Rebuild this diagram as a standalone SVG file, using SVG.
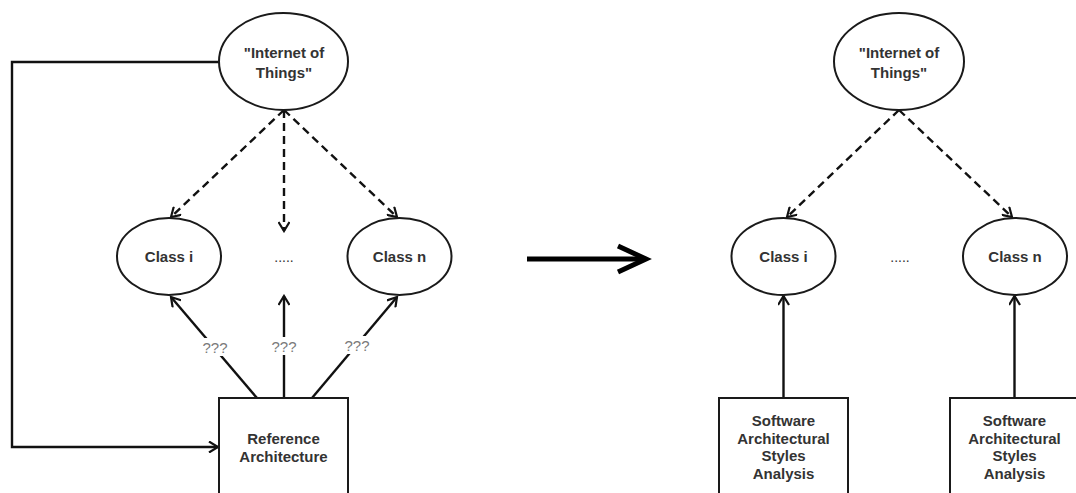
<svg xmlns="http://www.w3.org/2000/svg" width="1076" height="493" viewBox="0 0 1076 493">
  <style>
    .shape { fill: #ffffff; stroke: #1a1a1a; stroke-width: 2; }
    .lbl { font-family: "Liberation Sans", Arial, sans-serif; font-size: 15px; font-weight: bold; fill: #333333; text-anchor: middle; }
    .dots { font-family: "Liberation Sans", Arial, sans-serif; font-size: 14px; fill: #333333; text-anchor: middle; }
    .q { font-family: "Liberation Sans", Arial, sans-serif; font-size: 15px; fill: #7a7a7a; text-anchor: middle; }
    .edge { fill: none; stroke: #111111; stroke-width: 2.4; marker-end: url(#open); }
    .dash { stroke-dasharray: 8 5; }
  </style>
  <defs>
    <marker id="open" viewBox="0 0 12 12" refX="10" refY="6" markerWidth="12" markerHeight="12" markerUnits="userSpaceOnUse" orient="auto">
      <path d="M1,0.5 L10,6 L1,11.5" fill="none" stroke="#111111" stroke-width="2.2" stroke-dasharray="none"/>
    </marker>
  </defs>

  <!-- connectors -->
  <g id="connectors">
    <!-- left: loop from IoT back to reference architecture -->
    <polyline class="edge" points="219,62 12,62 12,447 218,447"/>
    <!-- left: IoT to classes (dashed) -->
    <line class="edge dash" x1="284" y1="110" x2="171" y2="217"/>
    <line class="edge dash" x1="284" y1="110" x2="284" y2="231"/>
    <line class="edge dash" x1="284" y1="110" x2="397" y2="217"/>
    <!-- left: reference architecture to classes -->
    <line class="edge" x1="257" y1="398" x2="171" y2="297"/>
    <line class="edge" x1="284" y1="398" x2="284" y2="296"/>
    <line class="edge" x1="312" y1="398" x2="397" y2="297"/>
    <!-- edge labels -->
    <rect x="201" y="338" width="28" height="18" fill="#ffffff"/>
    <text class="q" x="215" y="353">???</text>
    <rect x="270" y="337" width="28" height="18" fill="#ffffff"/>
    <text class="q" x="284" y="352">???</text>
    <rect x="343" y="336" width="28" height="18" fill="#ffffff"/>
    <text class="q" x="357" y="351">???</text>

    <!-- transition arrow -->
    <line x1="527" y1="259" x2="644" y2="259" stroke="#000000" stroke-width="5"/>
    <polyline points="618,246 646,259 618,272" fill="none" stroke="#000000" stroke-width="5" stroke-linejoin="miter"/>

    <!-- right: IoT to classes (dashed) -->
    <line class="edge dash" x1="899" y1="110" x2="787" y2="217"/>
    <line class="edge dash" x1="899" y1="110" x2="1012" y2="217"/>
    <!-- right: analyses to classes -->
    <line class="edge" x1="783.5" y1="398" x2="783.5" y2="296"/>
    <line class="edge" x1="1014.5" y1="398" x2="1014.5" y2="296"/>
  </g>

  <!-- left nodes -->
  <g id="iot-left">
    <ellipse class="shape" cx="283.5" cy="61.5" rx="64.5" ry="48.5"/>
    <text class="lbl" x="284" y="58">"Internet of</text>
    <text class="lbl" x="284" y="78">Things"</text>
  </g>
  <g id="class-i-left">
    <ellipse class="shape" cx="169" cy="256.5" rx="52" ry="38.5"/>
    <text class="lbl" x="169" y="262">Class i</text>
  </g>
  <g id="ellipsis-left">
    <text class="dots" x="284" y="262">.....</text>
  </g>
  <g id="class-n-left">
    <ellipse class="shape" cx="399.5" cy="256.5" rx="52" ry="38.5"/>
    <text class="lbl" x="399.5" y="262">Class n</text>
  </g>
  <g id="reference-architecture">
    <rect class="shape" x="219" y="398" width="129" height="120"/>
    <text class="lbl" x="283.5" y="444">Reference</text>
    <text class="lbl" x="283.5" y="462">Architecture</text>
  </g>

  <!-- right nodes -->
  <g id="iot-right">
    <ellipse class="shape" cx="899" cy="61.5" rx="65" ry="48.5"/>
    <text class="lbl" x="899" y="58">"Internet of</text>
    <text class="lbl" x="899" y="78">Things"</text>
  </g>
  <g id="class-i-right">
    <ellipse class="shape" cx="783.5" cy="256.5" rx="52" ry="38.5"/>
    <text class="lbl" x="783.5" y="262">Class i</text>
  </g>
  <g id="ellipsis-right">
    <text class="dots" x="900" y="262">.....</text>
  </g>
  <g id="class-n-right">
    <ellipse class="shape" cx="1015" cy="256.5" rx="52" ry="38.5"/>
    <text class="lbl" x="1015" y="262">Class n</text>
  </g>
  <g id="analysis-i">
    <rect class="shape" x="719" y="398" width="129" height="120"/>
    <text class="lbl" x="783.5" y="426">Software</text>
    <text class="lbl" x="783.5" y="444">Architectural</text>
    <text class="lbl" x="783.5" y="461">Styles</text>
    <text class="lbl" x="783.5" y="479">Analysis</text>
  </g>
  <g id="analysis-n">
    <rect class="shape" x="950" y="398" width="129" height="120"/>
    <text class="lbl" x="1014.5" y="426">Software</text>
    <text class="lbl" x="1014.5" y="444">Architectural</text>
    <text class="lbl" x="1014.5" y="461">Styles</text>
    <text class="lbl" x="1014.5" y="479">Analysis</text>
  </g>
</svg>
